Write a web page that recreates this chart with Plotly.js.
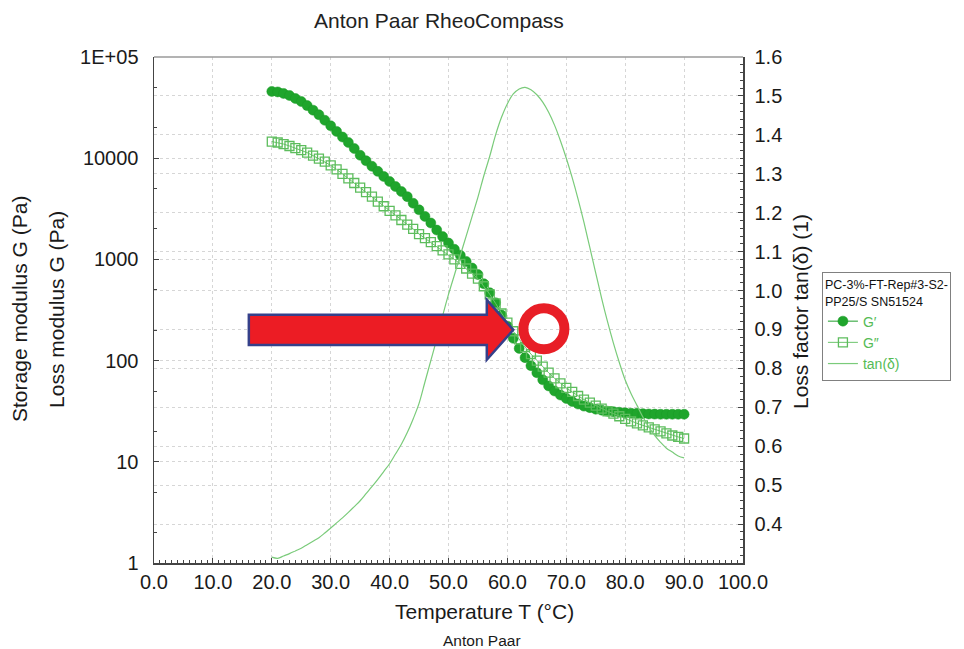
<!DOCTYPE html>
<html>
<head>
<meta charset="utf-8">
<script src="https://cdn.plot.ly/plotly-3.0.1.min.js"></script>
<style>html,body{margin:0;padding:0;background:#fff}#chart{width:964px;height:649px}</style>
</head>
<body>
<div id="chart"></div>
<script>
// Temperature (°C)
const temperature = [20,21,22,23,24,25,26,27,28,29,30,31,32,33,34,35,36,37,38,39,40,41,42,43,44,45,46,47,48,49,50,51,52,53,54,55,56,57,58,59,60,61,62,63,64,65,66,67,68,69,70,71,72,73,74,75,76,77,78,79,80,81,82,83,84,85,86,87,88,89,90];
// Storage modulus G' (Pa)
const storageModulus = [45700,45200,43650,41700,38900,36300,33100,29850,26900,23700,20900,18400,16200,14300,12450,10700,9440,8320,7410,6610,5890,5250,4680,4170,3590,3090,2660,2290,1950,1680,1450,1260,1100,955,822,708,575,468,372,282,219,166,132,107,89.1,75.9,64.6,56.2,50.1,45.7,42.2,39.4,37.2,35.5,34.3,33.1,32.4,31.6,31.3,30.9,30.5,30.2,30.1,29.9,29.7,29.6,29.5,29.5,29.5,29.5,29.5];
// Loss modulus G'' (Pa)
const lossModulus = [14600,14300,13800,13200,12600,12000,11350,10600,9890,9230,8510,7760,7000,6310,5690,5130,4620,4170,3720,3350,3020,2720,2450,2210,2000,1780,1620,1480,1350,1230,1120,1000,902,813,724,646,543,452,367,292,237,195,162,136,116,100,87.1,75.9,66.8,59.6,53.7,49.0,44.7,41.2,38.5,35.9,33.5,31.6,29.9,28.2,26.6,25.1,24.0,22.9,21.9,20.9,20.0,19.1,18.2,17.6,17.0];
// Loss factor tan(delta)
const lossFactor = [0.315,0.312,0.318,0.324,0.331,0.338,0.347,0.356,0.365,0.377,0.39,0.403,0.416,0.43,0.445,0.46,0.478,0.496,0.515,0.535,0.555,0.58,0.605,0.635,0.67,0.71,0.765,0.82,0.875,0.935,0.99,1.04,1.09,1.14,1.19,1.24,1.295,1.345,1.40,1.445,1.48,1.505,1.518,1.522,1.516,1.503,1.484,1.458,1.425,1.385,1.34,1.29,1.235,1.175,1.11,1.045,0.98,0.92,0.865,0.815,0.77,0.735,0.705,0.675,0.65,0.628,0.61,0.595,0.585,0.575,0.57];

const xTicks = [0,10,20,30,40,50,60,70,80,90,100];
const yTickVals = [1,10,100,1000,10000,100000];
const yTickText = ['1','10','100','1000','10000','1E+05'];
const y2Ticks = [0.4,0.5,0.6,0.7,0.8,0.9,1.0,1.1,1.2,1.3,1.4,1.5,1.6];

const FONT = 'Liberation Sans, Arial, Helvetica, sans-serif';

const traces = [
  {x: temperature, y: storageModulus, name: 'G\u2032', type: 'scatter', mode: 'lines+markers',
   line: {color: '#1f9e2a', width: 1},
   marker: {symbol: 'circle', size: 10, color: '#1fa52c', line: {color: '#1b9a27', width: 0.5}}},
  {x: temperature, y: lossModulus, name: 'G\u2033', type: 'scatter', mode: 'lines+markers',
   line: {color: '#6cc46c', width: 1},
   marker: {symbol: 'square-open', size: 9, color: '#5dbd5d', line: {width: 1.3}}},
  {x: temperature, y: lossFactor, name: 'tan(\u03b4)', type: 'scatter', mode: 'lines', yaxis: 'y2',
   line: {color: '#7acb7a', width: 1.2, shape: 'spline'}}
];

const axisCommon = {
  showline: true, linecolor: '#444', linewidth: 1.5,
  ticks: 'inside', ticklen: 5, tickcolor: '#444',
  tickfont: {family: FONT, size: 20, color: '#1a1a1a'},
  gridcolor: '#d6d6d6', griddash: 'dot', gridwidth: 1,
  zeroline: false
};

const layout = {
  width: 964, height: 649,
  margin: {l: 154, r: 221, t: 57, b: 86},
  paper_bgcolor: '#fff', plot_bgcolor: '#fff',
  font: {family: FONT},
  showlegend: true,
  hovermode: false,
  xaxis: Object.assign({}, axisCommon, {
    range: [0, 100], tickvals: xTicks, tickformat: '.1f', ticklabelstandoff: 0,
    minor: {ticks: 'inside', ticklen: 3, dtick: 1, tickcolor: '#444', showgrid: false}
  }),
  yaxis: Object.assign({}, axisCommon, {
    type: 'log', range: [0, 5], tickvals: yTickVals, ticktext: yTickText, ticklabelstandoff: 10,
    minor: {ticks: 'inside', ticklen: 3, tickcolor: '#444', showgrid: false}
  }),
  yaxis2: Object.assign({}, axisCommon, {
    overlaying: 'y', side: 'right', range: [0.3, 1.6], tickvals: y2Ticks, tickformat: '.1f',
    ticklabelstandoff: 6,
    minor: {ticks: 'inside', ticklen: 3, dtick: 0.02, tickcolor: '#444', showgrid: false}
  }),
  legend: {
    x: 1.134, xanchor: 'left', y: 0.575, yanchor: 'top',
    bgcolor: '#fff', bordercolor: '#808080', borderwidth: 1,
    font: {family: FONT, size: 14, color: '#55bb55'},
    title: {text: 'PC-3%-FT-Rep#3-S2-<br>PP25/S SN51524', font: {family: FONT, size: 12.5, color: '#111'}, side: 'top'},
    tracegroupgap: 0, itemwidth: 30
  },
  shapes: [
    {type: 'line', xref: 'paper', yref: 'paper', x0: 0, x1: 1, y0: 1, y1: 1, line: {color: '#9a9a9a', width: 1.5}},
    {type: 'path', xref: 'x', yref: 'y2',
     path: 'M 16.1 0.86 L 56.5 0.86 L 56.5 0.822 L 61.0 0.899 L 56.5 0.976 L 56.5 0.938 L 16.1 0.938 Z',
     fillcolor: '#ec1c24', line: {color: '#35408a', width: 2.5}},
    {type: 'circle', xref: 'x', yref: 'y2', xsizemode: 'pixel', ysizemode: 'pixel',
     xanchor: 66.2, yanchor: 0.902, x0: -20.5, x1: 20.5, y0: -20.5, y1: 20.5,
     line: {color: '#e81e26', width: 10}, fillcolor: 'rgba(0,0,0,0)'}
  ],
  annotations: [
    {text: 'Anton Paar RheoCompass', xref: 'paper', yref: 'paper', x: 0.4839, y: 1.073, showarrow: false,
     xanchor: 'center', yanchor: 'middle', font: {family: FONT, size: 21, color: '#222'}},
    {text: 'Temperature T (\u00b0C)', xref: 'paper', yref: 'paper', x: 0.561, y: -0.0968, showarrow: false,
     xanchor: 'center', yanchor: 'middle', font: {family: FONT, size: 21, color: '#1a1a1a'}},
    {text: 'Anton Paar', xref: 'paper', yref: 'paper', x: 0.5577, y: -0.154, showarrow: false,
     xanchor: 'center', yanchor: 'middle', font: {family: FONT, size: 15.5, color: '#1a1a1a'}},
    {text: 'Storage modulus G (Pa)', xref: 'paper', yref: 'paper', x: -0.2275, y: 0.502, showarrow: false,
     textangle: -90, xanchor: 'center', yanchor: 'middle', font: {family: FONT, size: 21, color: '#1a1a1a'}},
    {text: 'Loss modulus G (Pa)', xref: 'paper', yref: 'paper', x: -0.1647, y: 0.502, showarrow: false,
     textangle: -90, xanchor: 'center', yanchor: 'middle', font: {family: FONT, size: 21, color: '#1a1a1a'}},
    {text: 'Loss factor tan(\u03b4) (1)', xref: 'paper', yref: 'paper', x: 1.0968, y: 0.496, showarrow: false,
     textangle: -90, xanchor: 'center', yanchor: 'middle', font: {family: FONT, size: 21, color: '#1a1a1a'}}
  ]
};

Plotly.newPlot('chart', traces, layout, {displayModeBar: false, staticPlot: true});
</script>
</body>
</html>
